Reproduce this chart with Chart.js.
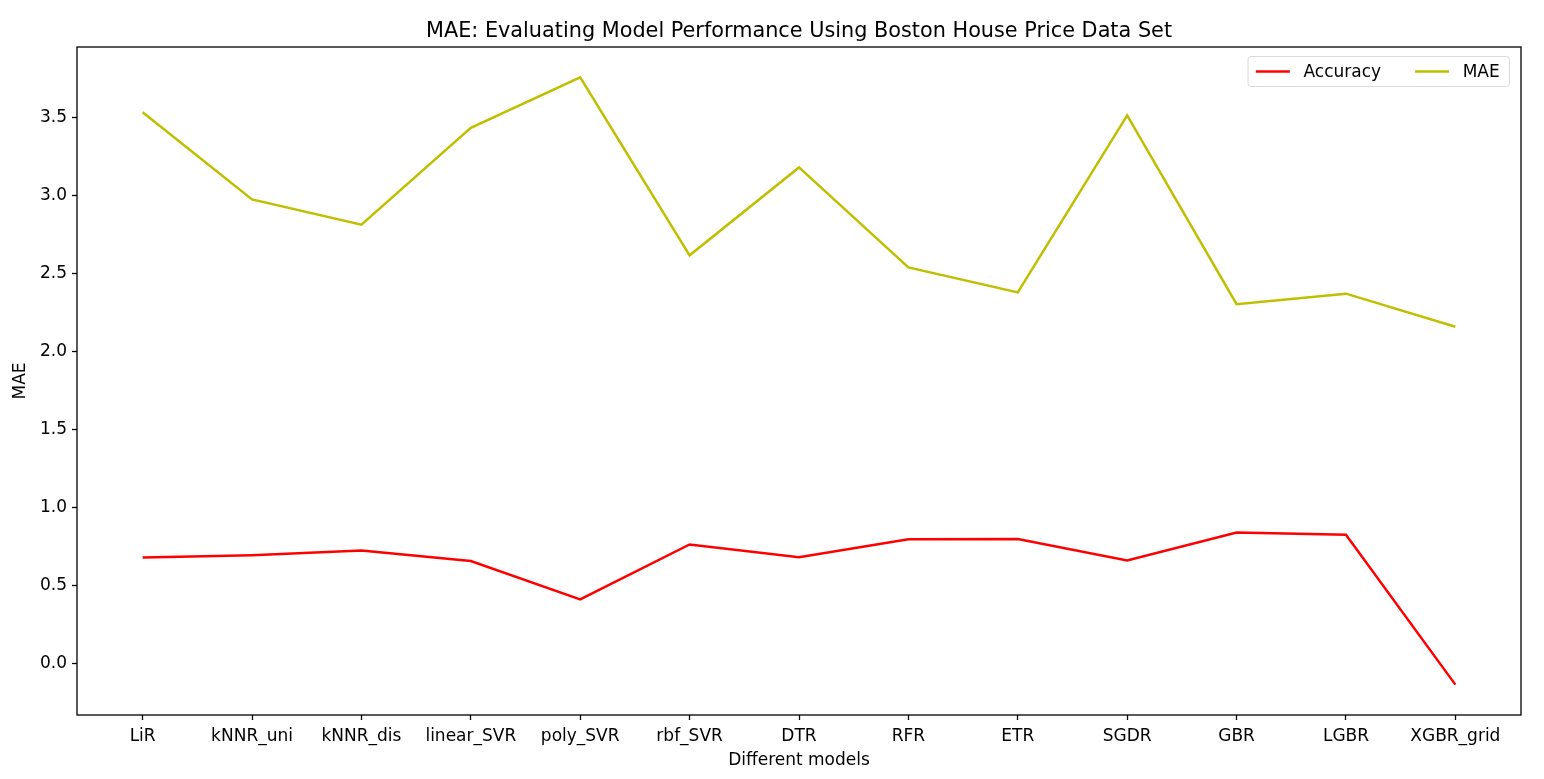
<!DOCTYPE html>
<html>
<head>
<meta charset="utf-8">
<script src="https://cdn.jsdelivr.net/npm/chart.js@4.4.1/dist/chart.umd.min.js"></script>
<style>
  html, body { margin: 0; padding: 0; background: #fff; }
</style>
</head>
<body>
<canvas id="chart" width="1544" height="779"></canvas>
<script>
// values
const models = ['LiR', 'kNNR_uni', 'kNNR_dis', 'linear_SVR', 'poly_SVR', 'rbf_SVR', 'DTR',
                'RFR', 'ETR', 'SGDR', 'GBR', 'LGBR', 'XGBR_grid'];
const accuracy = [0.679, 0.694, 0.724, 0.657, 0.411, 0.763, 0.681, 0.797, 0.798, 0.661, 0.840, 0.826, -0.135];
const mae = [3.533, 2.974, 2.812, 3.433, 3.756, 2.616, 3.179, 2.538, 2.378, 3.512, 2.303, 2.370, 2.158];
const yTicks = [0.0, 0.5, 1.0, 1.5, 2.0, 2.5, 3.0, 3.5];
const chartTitle = 'MAE: Evaluating Model Performance Using Boston House Price Data Set';

const FONT = '"DejaVu Sans", sans-serif';
const FS = 17;

Chart.defaults.font.family = FONT;
Chart.defaults.font.size = FS;
Chart.defaults.color = '#000';

// matplotlib-ish margins: 5% on each side of the data range
const yAll = accuracy.concat(mae);
const yMin = Math.min(...yAll), yMax = Math.max(...yAll);
const yPad = (yMax - yMin) * 0.05;
const xPad = (models.length - 1) * 0.05;

// frame, title and legend drawn like matplotlib
const mplDecor = {
  id: 'mplDecor',
  afterDraw(chart) {
    const { ctx, chartArea: a } = chart;
    ctx.save();
    ctx.strokeStyle = '#000';
    ctx.lineWidth = 1.3;
    ctx.strokeRect(a.left, a.top, a.right - a.left, a.bottom - a.top);

    ctx.fillStyle = '#000';
    ctx.font = '20.8px ' + FONT;
    ctx.textAlign = 'center';
    ctx.textBaseline = 'alphabetic';
    ctx.fillText(chartTitle, (a.left + a.right) / 2, 37);

    // legend, two columns
    ctx.font = FS + 'px ' + FONT;
    const handle = 2 * FS, gap = 0.8 * FS, colSpace = 2 * FS, bpad = 0.4 * FS;
    const items = chart.data.datasets.map(d => ({ label: d.label, color: d.borderColor, w: ctx.measureText(d.label).width }));
    let inner = 0;
    items.forEach((it, i) => { inner += handle + gap + it.w + (i < items.length - 1 ? colSpace : 0); });
    const boxW = inner + 2 * bpad + 4;
    const boxH = 30;
    const boxX = a.right - 0.5 * FS - 3 - boxW;
    const boxY = a.top + 0.5 * FS + 1;
    ctx.beginPath();
    ctx.roundRect(boxX, boxY, boxW, boxH, 3);
    ctx.fillStyle = 'rgba(255,255,255,0.8)';
    ctx.fill();
    ctx.strokeStyle = '#d9d9d9';
    ctx.lineWidth = 1;
    ctx.stroke();
    let x = boxX + bpad + 1;
    const cy = boxY + boxH / 2;
    ctx.textAlign = 'left';
    ctx.textBaseline = 'middle';
    items.forEach(it => {
      ctx.beginPath();
      ctx.moveTo(x, cy);
      ctx.lineTo(x + handle, cy);
      ctx.strokeStyle = it.color;
      ctx.lineWidth = 2.5;
      ctx.stroke();
      x += handle + gap;
      ctx.fillStyle = '#000';
      ctx.fillText(it.label, x, cy + 1);
      x += it.w + colSpace;
    });
    ctx.restore();
  }
};

new Chart(document.getElementById('chart'), {
  type: 'line',
  data: {
    datasets: [
      { label: 'Accuracy', data: accuracy.map((v, i) => ({ x: i, y: v })), borderColor: '#ff0000' },
      { label: 'MAE', data: mae.map((v, i) => ({ x: i, y: v })), borderColor: '#bfbf00' }
    ]
  },
  options: {
    responsive: false,
    devicePixelRatio: 1,
    animation: false,
    layout: { padding: { left: 0, right: 23, top: 47, bottom: 0 } },
    elements: {
      line: { borderWidth: 2.5, tension: 0, fill: false },
      point: { radius: 0, hoverRadius: 0 }
    },
    plugins: {
      legend: { display: false },
      title: { display: false },
      tooltip: { enabled: false }
    },
    scales: {
      x: {
        type: 'linear',
        min: -xPad,
        max: models.length - 1 + xPad,
        afterBuildTicks: s => { s.ticks = models.map((m, i) => ({ value: i })); },
        afterFit: s => { s.height = 64; },
        ticks: { callback: v => models[v], autoSkip: false, maxRotation: 0, padding: 6, color: '#000' },
        grid: { drawOnChartArea: false, tickLength: 5, tickColor: '#000', tickWidth: 1.3 },
        border: { display: false },
        title: { display: true, text: 'Different models', color: '#000', padding: { top: 0, bottom: 8 } }
      },
      y: {
        min: yMin - yPad,
        max: yMax + yPad,
        afterBuildTicks: s => { s.ticks = yTicks.map(v => ({ value: v })); },
        afterFit: s => { s.width = 77; },
        ticks: { callback: v => v.toFixed(1), padding: 5, color: '#000' },
        grid: { drawOnChartArea: false, tickLength: 5, tickColor: '#000', tickWidth: 1.3 },
        border: { display: false },
        title: { display: true, text: 'MAE', color: '#000', padding: { top: 10, bottom: 0 } }
      }
    }
  },
  plugins: [mplDecor]
});
</script>
</body>
</html>
